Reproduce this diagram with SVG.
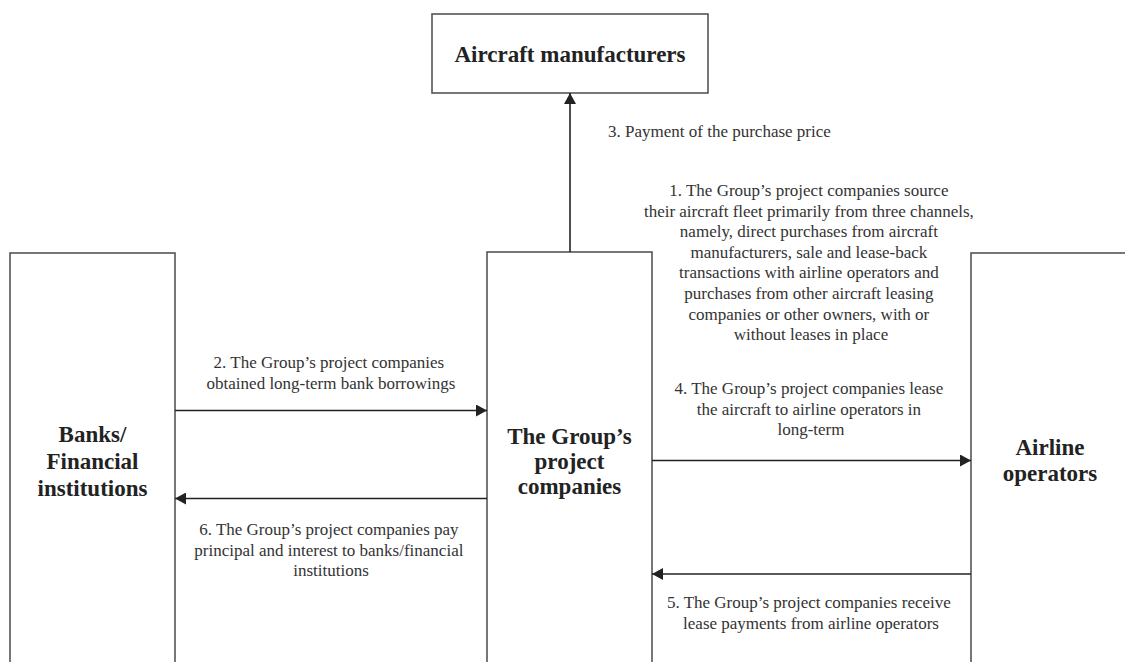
<svg xmlns="http://www.w3.org/2000/svg" width="1125" height="662" viewBox="0 0 1125 662">
<style>
.box{fill:#fff;stroke:#555;stroke-width:1.6}
.node{font-family:"Liberation Serif","Times New Roman",serif;font-weight:bold;font-size:23px;fill:#222;text-anchor:middle}
.lbl{font-family:"Liberation Serif","Times New Roman",serif;font-size:17px;fill:#333;text-anchor:middle}
.edge{stroke:#222;stroke-width:1.6;fill:none;marker-end:url(#ah)}
</style>
<defs>
<marker id="ah" viewBox="0 0 11 12" refX="11" refY="6" markerWidth="11" markerHeight="12" markerUnits="userSpaceOnUse" orient="auto">
<path d="M0,0 L11,6 L0,12 Z" fill="#222"/>
</marker>
</defs>
<rect width="1125" height="662" fill="#fff"/>
<g id="node-manufacturers">
<rect class="box" x="432" y="14" width="276" height="79"/>
<text class="node" x="570" y="62">Aircraft manufacturers</text>
</g>
<g id="node-banks">
<rect class="box" x="10" y="253" width="165" height="420"/>
<text class="node" x="92.5" y="442">Banks/</text>
<text class="node" x="92.5" y="469">Financial</text>
<text class="node" x="92.5" y="496">institutions</text>
</g>
<g id="node-group">
<rect class="box" x="487" y="252" width="165" height="420"/>
<text class="node" x="569.5" y="444">The Group’s</text>
<text class="node" x="569.5" y="469">project</text>
<text class="node" x="569.5" y="494">companies</text>
</g>
<g id="node-airline">
<rect class="box" x="971" y="253" width="170" height="420"/>
<text class="node" x="1050" y="455">Airline</text>
<text class="node" x="1050" y="481">operators</text>
</g>
<g id="connectors">
<line class="edge" x1="570" y1="252" x2="570" y2="93"/>
<line class="edge" x1="175" y1="410.5" x2="487" y2="410.5"/>
<line class="edge" x1="652" y1="460.5" x2="971" y2="460.5"/>
<line class="edge" x1="487" y1="498.5" x2="175" y2="498.5"/>
<line class="edge" x1="971" y1="574" x2="652" y2="574"/>
</g>
<g id="labels">
<text class="lbl" x="608" y="137" style="text-anchor:start">3. Payment of the purchase price</text>
<text class="lbl" x="811">
<tspan x="811" y="196">1. The Group’s project companies source</tspan>
<tspan x="811" y="216.6">their aircraft fleet primarily from three channels,</tspan>
<tspan x="811" y="237.2">namely, direct purchases from aircraft</tspan>
<tspan x="811" y="257.8">manufacturers, sale and lease-back</tspan>
<tspan x="811" y="278.4">transactions with airline operators and</tspan>
<tspan x="811" y="299">purchases from other aircraft leasing</tspan>
<tspan x="811" y="319.6">companies or other owners, with or</tspan>
<tspan x="811" y="340.2">without leases in place</tspan>
</text>
<text class="lbl">
<tspan x="331" y="368">2. The Group’s project companies</tspan>
<tspan x="331" y="388.6">obtained long-term bank borrowings</tspan>
</text>
<text class="lbl">
<tspan x="811" y="394">4. The Group’s project companies lease</tspan>
<tspan x="811" y="414.6">the aircraft to airline operators in</tspan>
<tspan x="811" y="435.2">long-term</tspan>
</text>
<text class="lbl">
<tspan x="331" y="535">6. The Group’s project companies pay</tspan>
<tspan x="331" y="555.6">principal and interest to banks/financial</tspan>
<tspan x="331" y="576.2">institutions</tspan>
</text>
<text class="lbl">
<tspan x="811" y="608">5. The Group’s project companies receive</tspan>
<tspan x="811" y="628.6">lease payments from airline operators</tspan>
</text>
</g>
</svg>
